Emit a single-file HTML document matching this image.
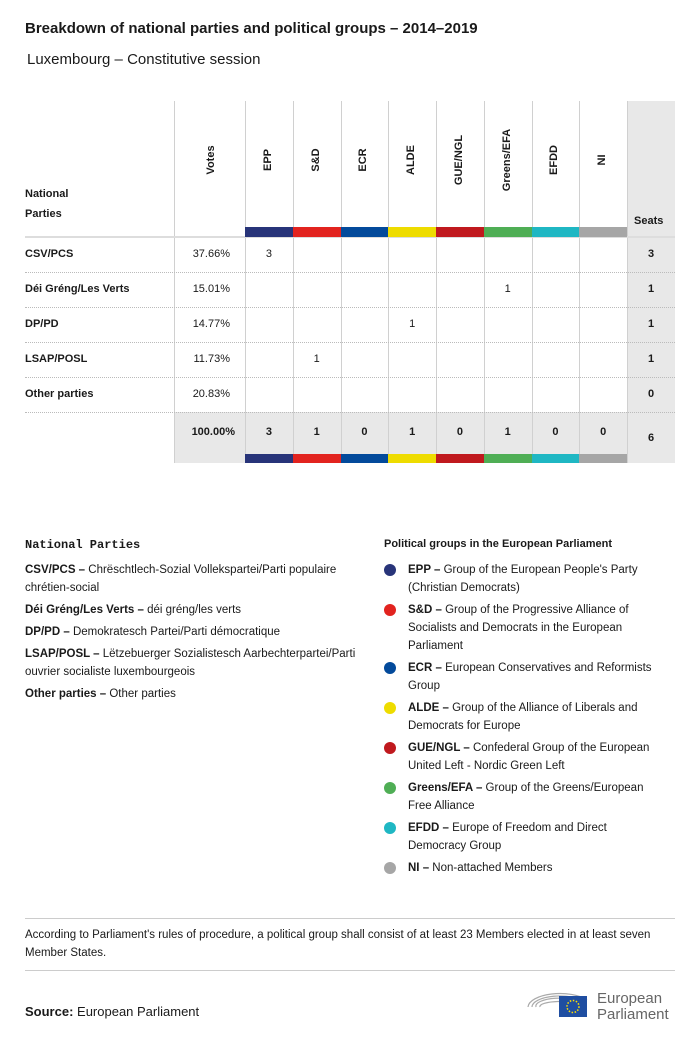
<!DOCTYPE html>
<html><head><meta charset="utf-8"><style>
*{margin:0;padding:0;box-sizing:border-box}
body{width:700px;height:1037px;background:#fff;font-family:"Liberation Sans",sans-serif;color:#1a1a1a;position:relative;overflow:hidden}
.abs{position:absolute}
.t{font-size:11px}
.b{font-weight:bold}
.vl{position:absolute;width:1px;background:#d0d0d0}
.hl{position:absolute;left:25px;width:650px;border-top:1px dotted #bbb}
.rot{position:absolute;transform:rotate(-90deg);transform-origin:left top;font-size:11px;white-space:nowrap;width:100px;text-align:center;line-height:13px}
.leg{position:absolute;font-size:11px;line-height:18px}
.dot{position:absolute;width:12px;height:12px;border-radius:6px}
</style></head><body>
<div class="abs b" style="left:25px;top:20px;font-size:15px">Breakdown of national parties and political groups – 2014–2019</div>
<div class="abs" style="left:27px;top:51px;font-size:15px">Luxembourg – Constitutive session</div>

<div id="table"></div>

<div class="abs b" style="left:25px;top:538px;font-size:12px;font-family:'Liberation Mono',monospace">National Parties</div>
<div class="leg" style="left:25px;top:561px;width:345px;font-size:11.5px">
<div style="margin-bottom:4px"><b>CSV/PCS –</b> Chrëschtlech-Sozial Vollekspartei/Parti populaire chrétien-social</div>
<div style="margin-bottom:4px"><b>Déi Gréng/Les Verts –</b> déi gréng/les verts</div>
<div style="margin-bottom:4px"><b>DP/PD –</b> Demokratesch Partei/Parti démocratique</div>
<div style="margin-bottom:4px"><b>LSAP/POSL –</b> Lëtzebuerger Sozialistesch Aarbechterpartei/Parti ouvrier socialiste luxembourgeois</div>
<div><b>Other parties –</b> Other parties</div>
</div>
<div class="abs b" style="left:384px;top:538px;font-size:11px">Political groups in the European Parliament</div>
<div id="legend"></div>

<div class="abs" style="left:25px;top:918px;width:650px;border-top:1px solid #ccc"></div>
<div class="leg" style="left:25px;top:926px;width:640px;font-size:11.5px">According to Parliament's rules of procedure, a political group shall consist of at least 23 Members elected in at least seven Member States.</div>
<div class="abs" style="left:25px;top:970px;width:650px;border-top:1px solid #ccc"></div>
<div class="abs" style="left:25px;top:1004px;font-size:13px"><b>Source:</b> European Parliament</div>
<svg class="abs" style="left:525px;top:982px" width="155" height="40">
<g fill="none" stroke="#aaa" stroke-width="1.2">
<path d="M3,25 A32,14 0 0 1 62,18"/><path d="M7,25 A28,11 0 0 1 60,20"/><path d="M11,25 A24,8 0 0 1 58,22"/><path d="M15,25 A20,5 0 0 1 55,24"/></g>
<rect x="34" y="14" width="28" height="21" fill="#1f4ea1"/>
<circle cx="48" cy="24.5" r="6" fill="none" stroke="#ffde00" stroke-width="1.5" stroke-dasharray="1.5 1.6"/>
<text x="72" y="21" font-size="15" fill="#666" font-family="Liberation Sans">European</text>
<text x="72" y="37" font-size="15" fill="#666" font-family="Liberation Sans">Parliament</text>
</svg>

<script>
const groups=["EPP","S&D","ECR","ALDE","GUE/NGL","Greens/EFA","EFDD","NI"];
const groupColors=["#283479","#e2231f","#034a9b","#eedc00","#c0191e","#4fae55","#1fb7c3","#a6a6a6"];
const parties=["CSV/PCS","Déi Gréng/Les Verts","DP/PD","LSAP/POSL","Other parties"];
const votes=["37.66%","15.01%","14.77%","11.73%","20.83%"];
const seatsByParty=[[3,0,0,0,0,0,0,0],[0,0,0,0,0,1,0,0],[0,0,0,1,0,0,0,0],[0,1,0,0,0,0,0,0],[0,0,0,0,0,0,0,0]];
const totalVotes="100.00%";
const legendText=[["EPP","Group of the European People's Party (Christian Democrats)"],["S&D","Group of the Progressive Alliance of Socialists and Democrats in the European Parliament"],["ECR","European Conservatives and Reformists Group"],["ALDE","Group of the Alliance of Liberals and Democrats for Europe"],["GUE/NGL","Confederal Group of the European United Left - Nordic Green Left"],["Greens/EFA","Group of the Greens/European Free Alliance"],["EFDD","Europe of Freedom and Direct Democracy Group"],["NI","Non-attached Members"]];
const T=document.getElementById('table');
function add(html,name){const d=document.createElement('div');d.innerHTML=html;const e=d.firstChild;

T.appendChild(e);return e;}
const colX=i=>245+i*47.75, colW=47.75, rowY=r=>237+r*35;
const topY=101, barY=227, hdrMid=160;
add(`<div class="abs" style="left:627px;top:${topY}px;width:48px;height:362px;background:#e8e8e8"></div>`,'seats-column-bg');
add(`<div class="abs" style="left:175px;top:412px;width:452px;height:51px;background:#e8e8e8"></div>`,'totals-row-bg');
add(`<div class="vl" style="left:174px;top:${topY}px;height:362px"></div>`,'votes-divider');
for(let i=0;i<=8;i++)add(`<div class="vl" style="left:${colX(i)}px;top:${topY}px;height:362px"></div>`,'column-divider');
add(`<div class="abs" style="left:25px;top:236px;width:650px;border-top:2px solid #ddd"></div>`,'header-rule');
add(`<div class="abs t b" style="left:25px;top:184px;line-height:20px">National<br>Parties</div>`,'national-parties-header');
add(`<div class="rot b" style="left:205px;top:${hdrMid+50}px">Votes</div>`,'votes-header');
add(`<div class="abs t b" style="left:634px;top:215px">Seats</div>`,'seats-header');
groups.forEach((g,i)=>{
 add(`<div class="rot b" style="left:${colX(i)+colW/2-7}px;top:${hdrMid+50}px">${g.replace('&','&amp;')}</div>`,'group-header');
 add(`<div class="abs" style="left:${colX(i)}px;top:${barY}px;width:${colW}px;height:10px;background:${groupColors[i]}"></div>`,'color-bar-top');
 add(`<div class="abs" style="left:${colX(i)}px;top:454px;width:${colW}px;height:9px;background:${groupColors[i]}"></div>`,'color-bar-bottom');
});
parties.forEach((p,r)=>{
 const y=rowY(r);
 if(r>0)add(`<div class="hl" style="top:${y}px"></div>`,'row-rule');
 add(`<div class="abs t b" style="left:25px;top:${y+11}px">${p}</div>`,'party-name');
 add(`<div class="abs t" style="left:175px;width:55px;text-align:right;top:${y+11}px">${votes[r]}</div>`,'party-votes');
 let s=0;
 seatsByParty[r].forEach((v,i)=>{s+=v;if(v)add(`<div class="abs t" style="left:${colX(i)}px;width:${colW}px;text-align:center;top:${y+11}px">${v}</div>`,'seat-count');});
 add(`<div class="abs t b" style="left:627px;width:48px;text-align:center;top:${y+11}px">${s}</div>`,'party-seats');
});
add(`<div class="hl" style="top:${rowY(5)}px"></div>`,'row-rule');
add(`<div class="abs t b" style="left:175px;width:60px;text-align:right;top:426px">${totalVotes}</div>`,'total-votes');
let grand=0;
groups.forEach((g,i)=>{const s=seatsByParty.reduce((a,row)=>a+row[i],0);grand+=s;
 add(`<div class="abs t b" style="left:${colX(i)}px;width:${colW}px;text-align:center;top:426px">${s}</div>`,'group-total');});
add(`<div class="abs t b" style="left:627px;width:48px;text-align:center;top:432px">${grand}</div>`,'total-seats');
const L=document.getElementById('legend');
const ly=[563,603,661,701,741,781,821,861];
legendText.forEach((l,i)=>{
 const d=document.createElement('div');d.className='dot';d.style.cssText=`left:384px;top:${ly[i]+1}px;background:${groupColors[i]}`;
 
 
 L.appendChild(d);
 const t=document.createElement('div');t.className='leg';t.style.cssText=`left:408px;top:${ly[i]-2}px;width:260px;font-size:11.5px`;
 t.innerHTML=`<b>${l[0].replace('&','&amp;')} –</b> ${l[1]}`;
 
 
 L.appendChild(t);
});
</script>
</body></html>
